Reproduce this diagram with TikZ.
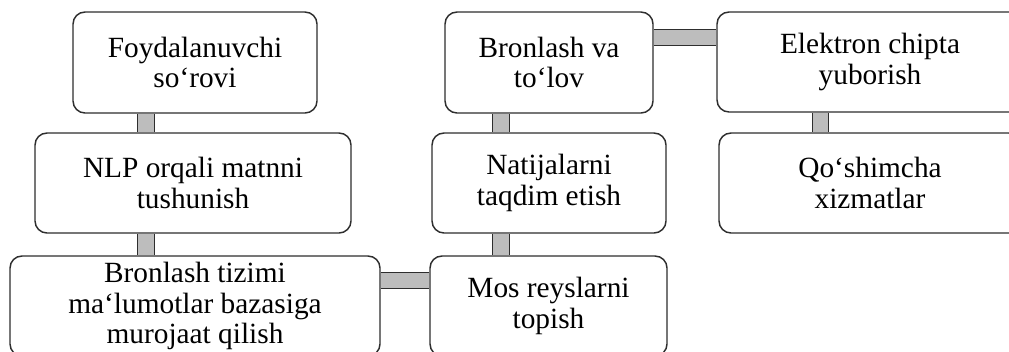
\documentclass[tikz,border=0pt]{standalone}
\usepackage{fontspec}
\setmainfont{Liberation Serif}
\usetikzlibrary{
  positioning,
  calc,
  backgrounds
}
\definecolor{barGray}{rgb}{0.74,0.74,0.74}
\definecolor{edgeGray}{rgb}{0.18,0.18,0.18}
\tikzset{
  stepbox/.style={
    draw=edgeGray,
    fill=white,
    rounded corners=9pt,
    line width=1.1pt,
    align=center,
    inner sep=0pt,
    minimum height=75pt,
    font=\fontsize{22pt}{23pt}\selectfont
  },
  bar/.style={
    draw=edgeGray,
    line width=0.8pt,
    double=barGray,
    double distance=11.5pt
  }
}

\begin{document}
\begin{tikzpicture}[x=0.75pt, y=-0.75pt]
    \useasboundingbox (0,0) rectangle (1009,351);

    \node[stepbox, minimum width=183pt, minimum height=75.75pt] (b1) at (195,62.5)
      {Foydalanuvchi\\so‘rovi};
    \node[stepbox, minimum width=237pt] (b2) at (193,183)
      {NLP orqali matnni\\tushunish};
    \node[stepbox, minimum width=277.5pt] (b3) at (195,306)
      {Bronlash tizimi\\ma‘lumotlar bazasiga\\murojaat qilish};
    \node[stepbox, minimum width=177.75pt] (b4) at (548.5,306)
      {Mos reyslarni\\topish};
    \node[stepbox, minimum width=175.5pt] (b5) at (549,183)
      {Natijalarni\\taqdim etish};
    \node[stepbox, minimum width=156pt, minimum height=75.75pt] (b6) at (549,62.5)
      {Bronlash va\\to‘lov};
    \node[stepbox, minimum width=229.5pt] (b7) at (870,62)
      {Elektron chipta\\yuborish};
    \node[stepbox, minimum width=226.5pt] (b8) at (870,183)
      {Qo‘shimcha\\xizmatlar};

    \begin{scope}[on background layer]
      \coordinate (v12) at ($(b1.south)+(-49,0)$);
      \draw[bar] (v12) -- (v12 |- b2.north);

      \coordinate (v23) at ($(b2.south)+(-47,0)$);
      \draw[bar] (v23) -- (v23 |- b3.north);

      \coordinate (h34) at ($(b3.east)+(0,-25.5)$);
      \draw[bar] (h34) -- (h34 -| b4.west);

      \coordinate (v45) at ($(b4.north)+(-47.5,0)$);
      \draw[bar] (v45) -- (v45 |- b5.south);

      \coordinate (v56) at ($(b5.north)+(-48,0)$);
      \draw[bar] (v56) -- (v56 |- b6.south);

      \coordinate (h67) at ($(b6.east)+(0,-25)$);
      \draw[bar] (h67) -- (h67 -| b7.west);

      \coordinate (v78) at ($(b7.south)+(-49.5,0)$);
      \draw[bar] (v78) -- (v78 |- b8.north);
    \end{scope}
 \end{tikzpicture}
\end{document}
